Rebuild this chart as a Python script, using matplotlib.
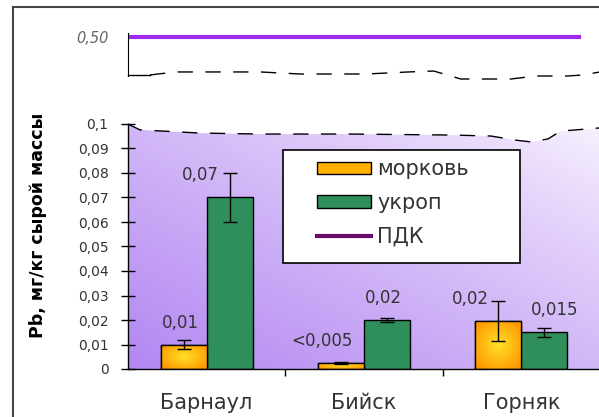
import numpy as np
import matplotlib
matplotlib.use("Agg")
import matplotlib.pyplot as plt
from matplotlib.lines import Line2D
from matplotlib.patches import Patch, Polygon, Rectangle

plt.rcParams['font.family'] = ['DejaVu Sans']

# данные
cities = ["Барнаул", "Бийск", "Горняк"]
carrot = [0.01, 0.0025, 0.0196]
carrot_err = [0.002, 0.0003, 0.008]
dill = [0.07, 0.02, 0.015]
dill_err = [0.01, 0.001, 0.0018]
carrot_labels = ["0,01", "<0,005", "0,02"]
dill_labels = ["0,07", "0,02", "0,015"]
pdk = 0.50
yticks = [0, 0.01, 0.02, 0.03, 0.04, 0.05, 0.06, 0.07, 0.08, 0.09, 0.1]
ytick_labels = ["0", "0,01", "0,02", "0,03", "0,04", "0,05", "0,06", "0,07", "0,08", "0,09", "0,1"]

# линии разрыва оси (декор)
brk_low_x = [-0.5, -0.424, -0.041, 0.341, 0.914, 1.551, 1.806, 1.965, 2.06, 2.169, 2.25, 2.5]
brk_low_y = [0.1, 0.0976, 0.0963, 0.0959, 0.0959, 0.0955, 0.0951, 0.0934, 0.0927, 0.0939, 0.0971, 0.0984]
brk_up_x = [-0.36, -0.2, 0.341, 0.596, 1.01, 1.283, 1.443, 1.615, 1.933, 2.092, 2.296, 2.392, 2.5]
brk_up_y = [0.4562, 0.4597, 0.4597, 0.4573, 0.4573, 0.4597, 0.4608, 0.4515, 0.4515, 0.455, 0.455, 0.4562, 0.4597]

W, H = 599, 417
fig = plt.figure(figsize=(W / 100, H / 100), dpi=100)


def frac(x0, y0, x1, y1):
    return [x0 / W, 1 - y1 / H, (x1 - x0) / W, (y1 - y0) / H]


ax = fig.add_axes(frac(128, 124, 600, 369))
ax_up = fig.add_axes(frac(128, 33, 600, 76))

x = np.arange(len(cities))
w = 0.293

# фон-градиент под линией разрыва
gx, gy = np.meshgrid(np.linspace(0, 1, 200), np.linspace(0, 1, 200))
t = 0.5 * (1 - gx) + 0.5 * (1 - gy)
t = 0.08 + 0.92 * np.clip(t, 0, 1) ** 0.85
purple = np.array([0.70, 0.53, 0.95])
white = np.array([1.0, 0.99, 1.0])
img = white[None, None, :] * (1 - t[..., None]) + purple[None, None, :] * t[..., None]
bg = ax.imshow(img, extent=(-0.5, 2.5, 0, 0.1), origin='lower', aspect='auto', zorder=0)
clip = Polygon(list(zip(brk_low_x, brk_low_y)) + [(2.5, 0), (-0.5, 0)], closed=True,
               transform=ax.transData, facecolor='none', edgecolor='none')
ax.add_patch(clip)
bg.set_clip_path(clip)

# столбцы
b1 = ax.bar(x - w / 2, carrot, w, color='#ffa800', edgecolor='black', lw=1, zorder=2)
ax.bar(x + w / 2, dill, w, color='#2f8f5b', edgecolor='black', lw=1, zorder=2)

# радиальный градиент на оранжевых столбцах
rx, ry = np.meshgrid(np.linspace(-1, 1, 60), np.linspace(-1, 1, 60))
r = np.clip(np.sqrt(rx ** 2 + ry ** 2) / 1.3, 0, 1)
c_in = np.array([1.0, 0.88, 0.15])
c_out = np.array([1.0, 0.58, 0.0])
orange_img = c_in[None, None, :] * (1 - r[..., None]) + c_out[None, None, :] * r[..., None]
for bar in b1:
    bx, by = bar.get_x(), bar.get_y()
    im = ax.imshow(orange_img, extent=(bx, bx + bar.get_width(), by, by + bar.get_height()),
                   aspect='auto', zorder=2.2)
    im.set_clip_path(bar)
ax.bar(x - w / 2, carrot, w, fill=False, edgecolor='black', lw=1, zorder=2.5)

ax.errorbar(x - w / 2, carrot, yerr=carrot_err, fmt='none', ecolor='black', elinewidth=1,
            capsize=5, capthick=1, zorder=3)
ax.errorbar(x + w / 2, dill, yerr=dill_err, fmt='none', ecolor='black', elinewidth=1,
            capsize=5, capthick=1, zorder=3)

# подписи значений
carrot_dx = [-3, -19, -28]
dill_dx = [-29, -4, 10]
for i in range(len(cities)):
    ax.annotate(carrot_labels[i], (x[i] - w / 2, carrot[i]), xytext=(carrot_dx[i], 13),
                textcoords='offset pixels', ha='center', va='bottom', fontsize=12, color='#333333')
    ax.annotate(dill_labels[i], (x[i] + w / 2, dill[i]), xytext=(dill_dx[i], 13),
                textcoords='offset pixels', ha='center', va='bottom', fontsize=12, color='#333333')

# разрыв нижней оси
ax.plot(brk_low_x, brk_low_y, color='black', lw=1, dashes=(11, 9), zorder=4, clip_on=False)

ax.set_xlim(-0.5, 2.5)
ax.set_ylim(0, 0.1)
ax.set_yticks(yticks)
ax.set_yticklabels(ytick_labels, fontsize=10, color='#333333')
ax.tick_params(axis='y', direction='inout', length=10, width=1, pad=9)
ax.set_xticks(x)
ax.set_xticklabels(cities, fontsize=15, color='#333333')
ax.tick_params(axis='x', length=0, pad=17)
ax.set_xticks([0.5, 1.5], minor=True)
ax.tick_params(axis='x', which='minor', direction='out', length=5, width=1)
for s in ['top', 'right']:
    ax.spines[s].set_visible(False)
ax.spines['left'].set_linewidth(1)
ax.spines['bottom'].set_linewidth(1)
ax.patch.set_alpha(0)

# верхняя часть оси — ПДК
ax_up.axhline(pdk, xmin=0, xmax=0.955, color='#a12af0', lw=3)
ax_up.plot([-0.5, -0.36], [0.4562, 0.4562], color='black', lw=1, clip_on=False)
ax_up.plot(brk_up_x, brk_up_y, color='black', lw=1, dashes=(11, 9), clip_on=False)
ax_up.set_xlim(-0.5, 2.5)
ax_up.set_ylim(0.455, 0.505)
ax_up.set_yticks([pdk])
ax_up.set_yticklabels(["0,50"], fontsize=10.5, style='italic', color='#666666')
ax_up.tick_params(axis='y', length=0, pad=14)
ax_up.set_xticks([])
for s in ['top', 'right', 'bottom']:
    ax_up.spines[s].set_visible(False)
ax_up.patch.set_alpha(0)

# подпись оси Y
fig.text(38 / W, 1 - 225 / H, "Pb, мг/кг сырой массы", rotation=90, fontsize=12.5,
         fontweight='bold', ha='center', va='center', color='black')

# легенда: рамка отдельно, записи внутри
fig.add_artist(Rectangle((283 / W, 1 - 263 / H), (520 - 283) / W, (263 - 150) / H,
                         transform=fig.transFigure, facecolor='white', edgecolor='black',
                         lw=1.2, zorder=5))
handles = [Patch(facecolor='#ffb000', edgecolor='black', lw=1),
           Patch(facecolor='#2f8f5b', edgecolor='black', lw=1),
           Line2D([], [], color='#6a0a6a', lw=3)]
leg = fig.legend(handles, ["морковь", "укроп", "ПДК"], loc='center left',
                 bbox_to_anchor=(317 / W, 1 - 203 / H), fontsize=15, frameon=False,
                 handlelength=2.6, handleheight=0.55, handletextpad=0.3,
                 labelspacing=0.65, borderpad=0, borderaxespad=0)
leg.set_zorder(6)
for txt in leg.get_texts():
    txt.set_color('#333333')

# внешняя рамка
fig.add_artist(Line2D([13 / W, 13 / W], [0, 1 - 7 / H], color='#444444', lw=1.5))
fig.add_artist(Line2D([13 / W, 1], [1 - 7 / H, 1 - 7 / H], color='#444444', lw=1.5))

fig.savefig("out.png", dpi=100)
